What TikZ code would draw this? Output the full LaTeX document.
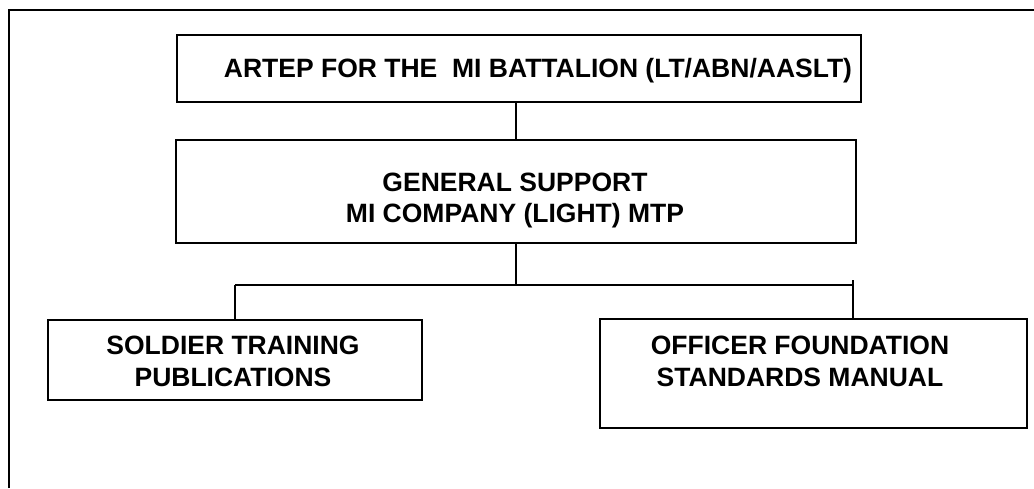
\documentclass[tikz,border=0pt]{standalone}
\usepackage{fontspec}
\setmainfont{Liberation Sans}
\begin{document}
\begin{tikzpicture}[x=1pt,y=-1pt,
  box/.style={draw, line width=2pt, rectangle, inner sep=0pt},
  lbl/.style={font=\bfseries\fontsize{26.5}{31.5}\selectfont, align=center, inner sep=0pt},
  wire/.style={line width=2pt}]
\useasboundingbox (0,0) rectangle (1034,488);
\coordinate (fb) at (9,488);
\coordinate (fc) at (9,10);
\coordinate (fr) at (1034,10);
\draw[line width=2pt] (fb) -- (fc) -- (fr);
\node[box, minimum width=684pt, minimum height=67pt] (b1) at (519,68.5) {};
\node[box, minimum width=680pt, minimum height=103pt] (b2) at (516,191.5) {};
\node[box, minimum width=374pt, minimum height=80pt] (b3) at (235,360) {};
\node[box, minimum width=427pt, minimum height=109pt] (b4) at (813.5,373.5) {};
\node[lbl] (t1) at (538,71) {ARTEP FOR THE\ \ MI BATTALION (LT/ABN/AASLT)};
\node[lbl] (t2) at (515,200.5) {GENERAL SUPPORT\\MI COMPANY (LIGHT) MTP};
\node[lbl] (t3) at (233,361.5) {SOLDIER TRAINING\\PUBLICATIONS};
\node[lbl] (t4) at (800,361.5) {OFFICER FOUNDATION\\STANDARDS MANUAL};
\coordinate (j) at (516,285);
\coordinate (jl) at (235,285);
\coordinate (jr) at (853,285);
\coordinate (jrt) at (853,280);
\draw[wire] (b2.north) -- (b2.north |- b1.south);
\draw[wire] (b2.south) -- (j);
\draw[wire] (jl) -- (jr);
\draw[wire] (jl) -- (b3.north);
\draw[wire] (jrt) -- (jrt |- b4.north);
\end{tikzpicture}
\end{document}
